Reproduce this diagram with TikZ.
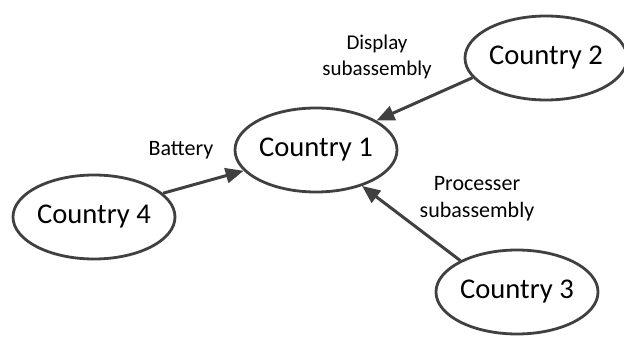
\documentclass[tikz,border=0pt]{standalone}
\usepackage{fontspec}
\setmainfont{Carlito}
\usetikzlibrary{shapes.geometric,arrows.meta}
\definecolor{edge}{HTML}{404040}
\tikzset{
  country/.style={ellipse, draw=edge, line width=2.8pt, fill=white,
    minimum width=162pt, minimum height=84pt, inner sep=0pt,
    font=\fontsize{28.6}{32}\selectfont},
  flow/.style={draw=edge, line width=3pt,
    -{Triangle[length=18pt,width=15pt]}},
  lbl/.style={align=center, inner sep=0pt,
    font=\fontsize{22}{27}\selectfont}
}
\begin{document}
\begin{tikzpicture}[x=1pt,y=-1pt]
\useasboundingbox (0,0) rectangle (624,339);
\node[country] (c1) at (316,150) {Country 1};
\node[country] (c2) at (546,58) {Country 2};
\node[country] (c3) at (517,292) {Country 3};
\node[country] (c4) at (94,217) {Country 4};
\draw[flow] (c2.195) -- (c1.26);
\draw[flow] (c4.19) -- (c1.196);
\draw[flow] (c3.151) -- (c1.322);
\node[lbl, font=\fontsize{21}{26}\selectfont] (l1) at (377,57) {Display\\subassembly};
\node[lbl] (l2) at (181,150) {Battery};
\node[lbl] (l3) at (477,199) {Processer\\subassembly};
\end{tikzpicture}
\end{document}
